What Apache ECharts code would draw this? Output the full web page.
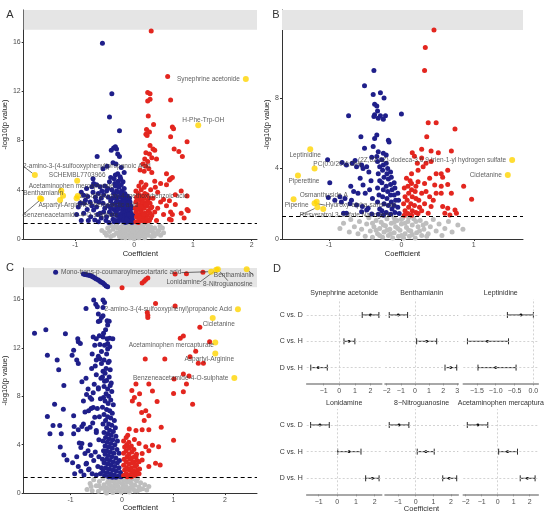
<!DOCTYPE html>
<html lang="en">
<head>
<meta charset="UTF-8">
<title>Volcano plots</title>
<script src="https://cdn.jsdelivr.net/npm/echarts@6/dist/echarts.min.js"></script>
<style>
  html, body { margin: 0; padding: 0; background: #fff; }
  #main { width: 550px; height: 513px; }
</style>
</head>
<body>
<div id="main"></div>
<script>
// ---------- panel A (coefficient, -log10 p) ----------
const aBlue = [[-0.54,15.9],[-0.38,11.8],[-0.42,9.9],[-0.25,8.8],[-0.35,7.4],[-0.32,7.5],[-0.3,7.3],[-0.39,7.2],[-0.28,6.9],[-0.25,6.7],[-0.63,6.7],
  [-0.36,6.2],[-0.31,6.1],[-0.46,5.9],[-0.22,5.8],[-0.53,5.7],[-0.17,5.4],[-0.28,5.3],[-0.32,5.2],[-0.24,5.05],[-0.4,5.0],
  [-0.69,4.5],[-0.64,4.4],[-0.72,4.25],[-0.81,4.1],[-0.58,4.25],[-0.42,4.65],[-0.33,4.5],[-0.19,4.65],[-0.5,4.3],[-0.45,4.1],
  [-0.86,3.55],[-0.83,3.15],[-0.92,2.9],[-0.79,3.45],[-0.75,3.0],[-0.86,2.1],[-0.95,2.6],[-0.9,3.8],[-0.7,3.8],[-0.66,3.4],
  [-0.61,3.7],[-0.56,3.3],[-0.53,2.9],[-0.64,2.6],[-0.5,2.5],[-0.58,2.1],[-0.56,1.7],[-0.47,1.8],
  [-0.69,2.35],[-0.74,1.8],[-0.67,1.55],[-0.61,1.4],[-0.8,2.4],[-0.72,2.7],[-0.6,3.0],[-0.52,3.6],[-0.47,3.9],[-0.44,3.4],[-0.42,2.2],[-0.48,1.5],
  [-0.38,4.0],[-0.35,3.7],[-0.4,3.1],[-0.37,2.8],[-0.35,2.4],[-0.38,2.0],[-0.36,1.6],[-0.34,1.4],
  [-0.32,4.3],[-0.3,3.9],[-0.31,3.5],[-0.3,3.2],[-0.32,2.9],[-0.3,2.6],[-0.31,2.2],[-0.3,1.9],[-0.31,1.5],
  [-0.27,4.7],[-0.26,4.2],[-0.27,3.8],[-0.25,3.4],[-0.26,3.0],[-0.25,2.7],[-0.27,2.4],[-0.26,2.0],[-0.25,1.7],[-0.27,1.4],
  [-0.22,4.4],[-0.21,3.9],[-0.22,3.6],[-0.2,3.3],[-0.21,3.0],[-0.22,2.7],[-0.2,2.4],[-0.21,2.1],[-0.22,1.8],[-0.2,1.5],
  [-0.17,4.1],[-0.16,3.7],[-0.17,3.4],[-0.15,3.1],[-0.16,2.8],[-0.17,2.5],[-0.15,2.2],[-0.16,1.9],[-0.17,1.6],[-0.15,1.35],
  [-0.12,3.5],[-0.11,3.2],[-0.12,2.9],[-0.1,2.6],[-0.11,2.3],[-0.12,2.0],[-0.1,1.7],[-0.11,1.4],
  [-0.07,3.0],[-0.06,2.7],[-0.07,2.4],[-0.05,2.1],[-0.06,1.8],[-0.07,1.5],[-0.04,1.35],[-0.02,1.9],[-0.03,1.6],
  [-0.98,2.0],[-0.9,1.5],[-0.85,2.9],[-0.78,1.5],[-0.7,4.9],[-0.65,3.1],[-0.62,2.0],[-0.55,3.9],[-0.52,2.2],[-0.45,2.7],[-0.43,1.35],
  [-0.4,2.5],[-0.37,3.3],[-0.34,4.9],[-0.29,4.5],[-0.23,4.9],[-0.18,3.0],[-0.14,2.6],[-0.13,1.6],[-0.09,2.0],[-0.08,3.3],[-0.04,2.5]];
const aRed = [[0.29,16.9],[0.57,13.2],[0.23,11.9],[0.27,11.8],[0.27,11.35],[0.23,11.2],[0.62,11.3],[0.24,10.0],[0.65,9.1],[0.67,8.95],[0.33,9.3],
  [0.21,8.9],[0.26,8.7],[0.2,8.5],[0.22,8.4],[0.9,7.9],[0.62,8.3],[0.27,7.6],[0.32,7.3],[0.35,7.2],[0.2,7.0],[0.26,6.9],[0.68,7.3],[0.76,7.1],
  [0.82,6.7],[0.3,6.6],[0.18,6.5],[0.23,6.3],[0.38,6.5],[0.15,6.1],[0.2,5.9],[0.25,5.7],[0.1,5.6],[0.17,5.5],[0.3,5.4],[0.55,5.3],[0.65,5.0],
  [0.62,4.9],[0.6,4.8],[0.35,4.7],[0.12,4.6],[0.2,4.4],[0.45,4.5],[0.55,4.4],[0.8,3.9],[0.9,3.5],[0.7,3.6],[0.4,3.8],[0.5,3.2],[0.6,3.1],
  [0.45,3.0],[0.55,2.7],[0.7,2.8],[0.9,2.4],[0.92,2.3],[0.62,2.2],[0.65,2.0],[0.8,2.1],[0.5,2.0],[0.6,1.6],[0.63,1.55],[0.85,1.7],[0.4,2.5],
  [0.35,2.2],[0.3,1.9],[0.38,1.5],[0.32,3.3],[0.28,4.0],[0.36,4.2],
  [0.03,3.9],[0.04,3.4],[0.03,3.0],[0.05,2.6],[0.03,2.2],[0.04,1.8],[0.03,1.4],[0.08,4.3],[0.07,3.7],[0.09,3.2],[0.08,2.8],[0.07,2.4],[0.09,2.0],
  [0.08,1.6],[0.07,1.35],[0.12,4.0],[0.13,3.5],[0.12,3.1],[0.14,2.7],[0.12,2.3],[0.13,1.9],[0.12,1.5],[0.17,4.2],[0.18,3.7],[0.17,3.3],[0.19,2.9],
  [0.17,2.5],[0.18,2.1],[0.17,1.7],[0.19,1.4],[0.22,3.6],[0.23,3.1],[0.22,2.7],[0.24,2.3],[0.22,1.9],[0.23,1.5],[0.27,2.9],[0.28,2.5],[0.27,2.1],[0.28,1.7],
  [0.02,2.5],[0.06,2.0],[0.1,1.7],[0.11,2.6],[0.15,3.0],[0.16,2.0],[0.2,2.8],[0.21,1.6],[0.25,3.3],[0.26,1.5],[0.3,2.6],[0.15,1.5],[0.05,3.2],[0.1,3.5]];
const aGrey = [[-0.45,0.9],[-0.4,1.1],[-0.42,0.6],[-0.35,0.3],[-0.36,0.8],[-0.3,1.2],[-0.3,0.5],[-0.28,0.9],[-0.25,0.2],[-0.24,0.6],[-0.22,1.0],
  [-0.2,0.35],[-0.19,0.75],[-0.18,1.2],[-0.15,0.1],[-0.15,0.5],[-0.14,0.9],[-0.12,1.25],[-0.1,0.3],[-0.1,0.7],[-0.08,1.05],[-0.06,0.15],[-0.05,0.5],
  [-0.04,0.85],[-0.03,1.2],[0.0,0.05],[0.0,0.35],[0.01,0.7],[0.0,1.0],[0.03,0.2],[0.04,0.55],[0.05,0.9],[0.06,1.2],[0.08,0.1],[0.09,0.4],[0.1,0.75],
  [0.11,1.1],[0.13,0.25],[0.14,0.6],[0.15,0.95],[0.17,1.25],[0.18,0.1],[0.19,0.45],[0.2,0.8],[0.23,1.1],[0.24,0.3],[0.26,0.65],[0.28,1.0],[0.3,0.2],
  [0.32,0.55],[0.35,0.9],[0.38,0.4],[0.42,0.7],[0.45,0.3],[0.48,0.9],[-0.5,0.5],
  [-0.4,0.2],[-0.33,1.0],[-0.27,0.4],[-0.21,0.15],[-0.17,0.65],[-0.13,0.35],[-0.09,0.95],[-0.07,0.1],[-0.02,0.65],[0.02,0.95],[0.07,0.3],
  [0.12,0.55],[0.16,0.3],[0.21,0.6],[0.25,0.95],[0.3,0.75],[0.34,0.25],[0.4,0.6],[0.44,1.05],[-0.47,0.3],[0.5,0.5],[-0.55,0.7]];
const aLabNames = ['Synephrine acetonide','H-Phe-Trp-OH','2-amino-3-(4-sulfooxyphenyl)propanoic Acid','SCHEMBL7703966',
  'Acetaminophen mercapturate','Benthamianin','2,6-dihydroxy-4-methoxybenzoic acid','Aspartyl-Arginine','Phenyllactic acid',
  'Benzeneacetamide-4-O-sulphate',''];
const aLabX = [1.9,1.09,-1.69,-0.97,-1.24,-1.6,-0.96,-1.26,-0.98,-1.58,-1.21];
const aLabY = [13.0,9.24,5.19,4.73,3.92,3.3,3.49,3.16,3.3,3.25,3.51];

// ---------- panel B ----------
const bBlue = [[-0.38,9.56],[-0.51,8.7],[-0.29,8.3],[-0.39,8.2],[-0.24,8.0],[-0.37,7.65],[-0.34,7.55],[-0.33,7.27],[-0.37,7.05],[-0.29,7.0],
  [-0.22,7.0],[-0.25,6.8],[-0.32,6.85],[-0.38,6.95],[-0.73,7.0],[0.0,7.1],[-0.56,5.8],[-0.34,5.9],[-0.37,5.7],[-0.18,5.6],[-0.17,5.5],[-0.51,5.15],
  [-0.39,5.25],[-0.32,4.96],[-0.25,4.87],[-0.21,4.77],[-0.34,4.68],[-0.41,4.64],[-1.02,4.5],[-0.82,4.34],[-0.68,4.3],[-0.64,4.45],[-0.76,4.2],
  [-0.62,4.1],[-0.55,4.2],[-0.53,4.0],[-0.48,4.1],[-0.99,3.2],[-0.57,3.45],[-0.53,3.07],[-0.6,2.6],[-0.5,2.6],[-1.01,2.35],[-0.92,2.2],[-0.85,2.4],
  [-0.78,2.3],[-0.83,2.1],[-0.69,2.2],[-0.71,2.0],[-0.62,1.93],[-0.54,1.84],[-0.46,1.74],[-0.8,1.46],[-0.76,1.46],[-0.55,1.55],[-0.48,1.65],
  [-0.41,1.42],[-0.45,3.8],[-0.42,3.3],[-0.44,2.8],[-0.4,2.3],[-0.66,2.7],[-0.7,3.0],
  [-0.33,4.4],[-0.3,4.1],[-0.32,3.7],[-0.3,3.3],[-0.33,2.9],[-0.31,2.5],[-0.33,2.1],[-0.3,1.7],[-0.32,1.4],
  [-0.27,4.5],[-0.25,4.2],[-0.26,3.9],[-0.24,3.5],[-0.27,3.2],[-0.25,2.8],[-0.26,2.4],[-0.24,2.0],[-0.27,1.6],[-0.25,1.35],
  [-0.21,4.3],[-0.19,4.0],[-0.2,3.7],[-0.18,3.4],[-0.21,3.0],[-0.19,2.7],[-0.2,2.3],[-0.18,1.9],[-0.21,1.5],
  [-0.15,3.8],[-0.14,3.5],[-0.15,3.1],[-0.13,2.8],[-0.15,2.5],[-0.14,2.1],[-0.13,1.7],[-0.15,1.4],
  [-0.1,3.2],[-0.09,2.9],[-0.1,2.5],[-0.08,2.2],[-0.1,1.9],[-0.09,1.5],[-0.05,2.6],[-0.04,2.2],[-0.05,1.8],[-0.03,1.45]];
const bRed = [[0.45,11.87],[0.33,10.87],[0.32,9.56],[0.37,6.6],[0.48,6.6],[0.74,6.25],[0.35,5.8],[0.28,5.1],[0.41,5.0],[0.51,4.9],[0.69,5.0],
  [0.15,4.9],[0.18,4.7],[0.28,4.6],[0.34,4.3],[0.41,4.4],[0.22,4.3],[0.3,4.1],[0.23,3.9],[0.14,3.7],[0.48,3.7],[0.55,3.7],[0.64,3.9],[0.57,3.5],
  [0.64,3.1],[0.55,3.0],[0.39,3.45],[0.32,3.15],[0.23,3.25],[0.07,3.45],[0.14,3.15],[0.86,3.0],[0.97,2.25],[0.46,3.07],[0.48,2.6],[0.39,2.4],
  [0.28,2.6],[0.34,2.7],[0.69,2.6],[0.55,2.6],[0.57,1.84],[0.64,1.74],[0.74,1.65],[0.76,1.46],[0.6,1.46],[0.67,1.36],[0.37,1.46],[0.41,1.84],
  [0.32,2.0],[0.44,2.2],[0.04,2.9],[0.05,2.4],[0.03,2.0],[0.05,1.6],[0.04,1.35],[0.09,3.0],[0.1,2.6],[0.08,2.2],[0.1,1.8],[0.09,1.45],[0.14,2.8],
  [0.15,2.4],[0.13,2.0],[0.15,1.6],[0.14,1.35],[0.19,2.7],[0.2,2.3],[0.18,1.9],[0.2,1.5],[0.24,2.2],[0.25,1.8],[0.23,1.45],[0.28,1.6],[0.12,3.3],[0.2,3.0]];
const bGrey = [[-0.85,0.6],[-0.8,0.9],[-0.72,0.4],[-0.7,1.1],[-0.65,0.7],[-0.6,0.3],[-0.58,1.0],[-0.55,0.55],[-0.5,0.15],[-0.48,0.85],[-0.45,1.2],
  [-0.43,0.45],[-0.4,0.1],[-0.38,0.7],[-0.35,1.05],[-0.33,0.3],[-0.3,0.6],[-0.28,0.95],[-0.26,0.1],[-0.24,0.4],[-0.22,0.75],[-0.2,1.15],[-0.18,0.2],
  [-0.16,0.55],[-0.14,0.9],[-0.12,0.05],[-0.1,0.35],[-0.08,0.7],[-0.06,1.05],[-0.04,0.15],[-0.02,0.5],[0.0,0.85],[0.02,1.2],[0.03,0.05],[0.05,0.3],
  [0.07,0.65],[0.09,1.0],[0.11,0.15],[0.13,0.45],[0.15,0.8],[0.17,1.15],[0.19,0.05],[0.21,0.35],[0.23,0.7],[0.26,1.05],[0.28,0.2],[0.31,0.55],
  [0.34,0.9],[0.37,0.3],[0.4,0.7],[0.44,1.1],[0.48,0.45],[0.52,0.85],[0.56,0.2],[0.6,0.6],[0.65,1.0],[0.7,0.4],[0.78,0.8],[0.85,0.55],
  [-0.3,0.2],[-0.25,0.8],[-0.2,0.5],[-0.15,0.3],[-0.1,0.95],[-0.05,0.6],[0.0,0.2],[0.05,0.9],[0.1,0.5],[0.15,0.25],[0.2,1.0],[0.25,0.45],
  [0.3,0.8],[0.35,0.15],[-0.35,0.5],[-0.4,0.9],[0.0,1.1],[0.1,1.2],[-0.1,1.2]];
const bLabNames = ['Leptinidine','PC(0:0/20:4;OH)','Piperettine','Piperine','Osmanthuside A','Hydroxy-alpha-sanshool',
  'Resveratrol 3-sulfate Naringenin','(2Z,6Z,9Z)-dodeca-3,6,9-trien-1-yl hydrogen sulfate','Cicletanine',''];
const bLabX = [-1.26,-1.2,-1.43,-1.49,-1.17,-1.2,-1.16,1.53,1.47,-1.08];
const bLabY = [5.1,4.0,3.6,2.25,2.12,2.03,1.8,4.49,3.64,1.7];

// ---------- panel C ----------
const cBlue = [[-1.29,18.24],[-0.75,18.1],[-0.72,18.07],[-0.69,18.05],[-0.65,18.0],[-0.62,17.97],[-0.59,17.92],[-0.56,17.86],[-0.53,17.78],
  [-0.5,17.7],[-0.46,17.6],[-0.43,17.5],[-0.4,17.42],[-0.37,17.37],[-0.34,17.24],[-0.31,17.12],[-0.28,17.06],
  [-0.55,15.96],[-0.37,15.96],[-0.51,15.6],[-0.34,15.75],[-0.48,15.4],[-0.37,15.34],[-0.7,15.26],[-0.46,14.8],[-0.43,14.25],[-0.46,14.17],
  [-0.4,14.5],[-0.37,14.66],[-0.29,14.25],[-0.25,14.2],[-1.7,13.2],[-1.48,13.5],[-1.1,13.17],[-0.56,12.9],[-0.5,12.76],[-0.37,12.9],[-0.29,12.76],
  [-0.24,12.8],[-0.18,12.76],[-0.28,12.36],[-0.43,12.28],[-0.53,12.22],[-0.34,12.22],[-0.24,12.09],[-0.86,12.76],[-0.85,12.5],[-0.81,12.36],
  [-1.45,11.4],[-1.26,11.0],[-1.23,10.2],[-1.13,8.9],[-0.94,11.8],[-0.97,11.4],[-0.88,11.0],[-0.85,10.7],
  [-1.31,7.34],[-1.14,6.93],[-1.45,6.32],[-1.34,5.59],[-1.21,5.59],[-1.4,4.9],[-1.18,4.9],[-0.94,6.4],[-0.93,5.5],[-0.85,5.23],[-0.83,4.15],
  [-0.8,3.77],[-1.13,3.15],[-1.07,2.74],[-0.94,4.9],[-0.78,4.09],[-0.72,3.28],[-0.69,2.46],[-0.65,1.93],
  [-0.62,7.89],[-0.59,7.75],[-0.75,7.62],[-0.69,8.15],[-0.56,7.07],[-0.65,6.8],[-0.53,6.26],[-0.75,5.72],[-0.62,5.45],[-0.5,5.18],
  [-0.59,10.3],[-0.5,9.78],[-0.43,11.1],[-0.4,10.7],[-0.37,10.06],[-0.34,9.24],[-0.46,8.7],[-0.56,8.29],
  [-0.62,4.0],[-0.66,3.5],[-0.6,3.1],[-0.55,2.7],[-0.7,2.4],[-0.64,2.0],[-0.58,1.6],[-0.74,1.5],[-0.8,1.8],[-0.85,2.2],[-0.5,1.5],[-0.47,2.2],
  [-0.52,3.4],[-0.45,4.4],[-0.5,5.0],[-0.57,5.8],[-0.44,6.3],[-0.48,7.0],[-0.42,7.8],[-0.46,8.6],[-0.54,9.0],[-0.41,9.5],[-0.45,3.0],[-0.42,1.6],
  [-0.88,3.0],[-0.96,2.5],[-1.2,3.8],[-0.92,1.6],[-0.68,5.3],[-0.72,6.7],[-0.78,5.5],[-0.6,7.0],[-0.66,8.6],[-0.7,9.5],[-0.78,9.2],[-0.52,10.5],
  [-0.46,11.3],[-0.4,11.7],[-0.5,11.0],[-0.58,11.5],[-0.35,11.0],[-0.3,11.5],[-0.28,11.9],[-0.25,10.9],[-0.36,13.2],[-0.32,13.5],[-0.44,13.0],[-0.28,13.9],
  [-0.38,9.6],[-0.33,9.9],[-0.3,9.3],[-0.25,9.6],[-0.21,9.1],[-0.35,8.8],[-0.28,8.6],[-0.23,8.9],[-0.31,8.2],[-0.26,8.0],[-0.2,8.4],[-0.36,7.9],
  [-0.33,7.6],[-0.27,7.4],[-0.22,7.7],[-0.17,7.3],[-0.38,7.1],[-0.3,6.9],[-0.24,6.8],[-0.19,6.6],[-0.35,6.5],[-0.28,6.3],[-0.22,6.2],[-0.15,6.0],
  [-0.32,6.0],[-0.37,5.7],[-0.26,5.7],[-0.2,5.6],[-0.13,5.4],[-0.3,5.4],[-0.24,5.2],[-0.17,5.1],[-0.35,5.0],[-0.28,4.9],[-0.21,4.8],[-0.12,4.7],
  [-0.32,4.6],[-0.25,4.5],[-0.18,4.4],[-0.09,4.3],[-0.37,4.3],[-0.29,4.2],[-0.22,4.1],[-0.14,4.0],[-0.33,3.9],[-0.26,3.8],[-0.19,3.7],[-0.1,3.6],
  [-0.06,3.3],[-0.36,3.5],[-0.3,3.5],[-0.23,3.4],[-0.16,3.3],[-0.33,3.2],[-0.27,3.1],[-0.2,3.0],[-0.12,2.9],[-0.05,2.7],[-0.38,2.8],[-0.3,2.8],
  [-0.24,2.7],[-0.17,2.6],[-0.09,2.5],[-0.35,2.5],[-0.28,2.4],[-0.21,2.3],[-0.14,2.2],[-0.06,2.1],[-0.4,2.1],[-0.32,2.1],[-0.25,2.0],[-0.18,1.9],
  [-0.11,1.8],[-0.03,1.7],[-0.37,1.8],[-0.29,1.7],[-0.22,1.6],[-0.15,1.5],[-0.08,1.4],[-0.02,1.35],[-0.34,1.45],[-0.26,1.35],[-0.19,1.3],[-0.12,1.3],
  [-0.31,10.3],[-0.27,10.8],[-0.23,10.2]];
const cRed = [[1.03,18.1],[1.25,18.13],[1.57,18.24],[0.0,16.97],[0.39,17.37],[0.43,17.5],[0.46,17.64],[0.5,17.77],
  [0.65,15.66],[1.03,15.47],[0.49,14.93],[0.5,14.7],[0.5,14.5],[1.51,13.7],[1.13,12.8],[1.19,12.98],[1.7,12.5],[1.43,11.73],[1.32,11.27],
  [1.48,10.73],[1.58,10.73],[0.45,11.08],[0.83,11.08],[1.19,9.84],[1.3,9.68],[1.01,9.43],[1.25,9.02],[1.0,8.24],[1.19,8.37],[1.37,7.34],
  [0.27,9.02],[0.52,9.02],[0.19,8.48],[0.34,8.2],[0.24,7.89],[0.59,8.43],[0.2,7.6],[0.68,7.56],[0.33,7.34],[0.46,6.8],[0.38,6.67],[0.52,6.4],
  [0.43,6.0],[0.76,5.45],[0.52,5.23],[0.39,5.23],[0.27,5.18],[0.14,5.3],[1.0,4.36],[0.11,4.77],[0.24,4.42],[0.33,4.09],[0.46,3.82],[0.59,3.96],
  [0.71,3.82],[0.52,3.5],[0.39,3.28],[0.65,2.47],[0.74,2.33],[0.52,2.2],[0.39,2.74],[0.27,3.0],
  [0.03,4.3],[0.05,3.8],[0.03,3.3],[0.04,2.8],[0.03,2.3],[0.05,1.9],[0.03,1.45],[0.08,4.6],[0.09,4.0],[0.08,3.5],[0.1,3.0],[0.08,2.6],[0.09,2.1],
  [0.08,1.6],[0.1,1.35],[0.13,4.2],[0.14,3.7],[0.13,3.2],[0.15,2.8],[0.13,2.4],[0.14,1.9],[0.13,1.5],[0.18,3.9],[0.19,3.4],[0.18,2.9],[0.2,2.5],
  [0.18,2.1],[0.19,1.7],[0.18,1.35],[0.23,3.6],[0.24,3.0],[0.23,2.6],[0.25,2.2],[0.23,1.8],[0.24,1.45],[0.28,3.2],[0.29,2.7],[0.28,2.3],[0.3,1.9],
  [0.28,1.55],[0.33,2.6],[0.34,2.0],[0.33,1.6]];
const cGrey = [[-0.68,0.3],[-0.62,0.8],[-0.58,0.2],[-0.55,1.1],[-0.5,0.6],[-0.46,0.15],[-0.44,0.95],[-0.4,0.4],[-0.37,1.2],[-0.35,0.7],[-0.32,0.1],
  [-0.3,0.45],[-0.28,0.9],[-0.26,1.2],[-0.24,0.25],[-0.22,0.6],[-0.2,1.0],[-0.18,0.05],[-0.16,0.4],[-0.14,0.75],[-0.12,1.15],[-0.1,0.2],[-0.08,0.55],
  [-0.06,0.9],[-0.04,1.25],[-0.02,0.1],[0.0,0.4],[0.02,0.75],[0.04,1.1],[0.06,0.2],[0.08,0.55],[0.1,0.9],[0.12,1.2],[0.14,0.1],[0.16,0.45],[0.18,0.8],
  [0.2,1.15],[0.22,0.3],[0.25,0.65],[0.28,1.0],[0.3,0.2],[0.33,0.5],[0.36,0.85],[0.4,0.35],[0.44,0.7],[0.48,0.25],[0.52,0.55],[-0.15,1.25],[0.0,1.2],[-0.3,0.0],
  [-0.25,0.75],[-0.2,0.35],[-0.15,0.95],[-0.1,0.6],[-0.05,0.3],[0.0,0.8],[0.05,0.5],[0.1,0.25],[0.15,1.05],[0.2,0.6],[0.25,0.2],[-0.35,0.4],
  [0.35,0.3],[-0.45,0.6],[0.3,1.2],[-0.6,0.55]];
const cLabNames = ['Mono-trans-p-coumaroylmesotartaric acid','Lonidamine','8-Nitroguanosine','Benthamianin',
  '2-amino-3-(4-sulfooxyphenyl)propanoic Acid','Cicletanine','Acetaminophen mercapturate','Aspartyl-Arginine','Benzeneacetamide-4-O-sulphate'];
const cLabX = [1.73,1.83,1.86,2.42,2.25,1.76,1.81,1.81,2.18];
const cLabY = [18.3,18.45,18.5,18.5,15.2,14.47,12.44,11.54,9.51];

const pThreshold = 1.3;
const volcanoXTicks = [[-1,0,1,2],[-1,0,1],[-1,0,1,2]];
const volcanoYTicks = [[0,4,8,12,16],[0,4,8],[0,4,8,12,16]];
const bandLow = [17, 11.86, 17];

// ---------- panel D (coefficient with CI) ----------
const dNames = ['Synephrine acetonide','Benthamianin','Leptinidine','Lonidamine','8\u2212Nitroguanosine','Acetaminophen mercaptura'];
const dRows = ['D vs. H','C vs. H','C vs. D'];
// order of values: C vs. D, C vs. H, D vs. H
const dEst = [[2.0,0.62,-1.35],[-1.18,0.83,2.53],[-0.33,-1.22,-1.0],[-0.93,0.63,1.88],[-0.94,0.58,1.9],[-1.24,0.62,1.86]];
const dLow = [[1.47,0.3,-1.83],[-1.82,0.12,2.13],[-0.69,-1.75,-1.47],[-1.43,0.02,1.52],[-1.49,0.09,1.53],[-1.9,0.06,1.41]];
const dHigh = [[2.54,1.0,-0.77],[-0.52,1.54,2.96],[0.0,-0.66,-0.46],[-0.43,1.27,2.24],[-0.38,1.05,2.32],[-0.62,1.24,2.34]];
const dTicks = [[-1,0,1,2],[-2,-1,0,1,2,3],[-1.5,-1,-0.5,0],[-1,0,1,2],[-1,0,1,2],[-2,-1,0,1,2]];

// ---------- layout ----------
const FONT = '"Liberation Sans", Arial, sans-serif';
const BLUE = '#1f1f8a', RED = '#e3261f', GREY = '#bebebe', GOLD = '#ffd400';
const volcanoGrids = [
  { left: 19, top: 10, width: 238, height: 229 },
  { left: 282, top: 10, width: 241, height: 229 },
  { left: 19, top: 268, width: 238, height: 229 }
];
const volcanoX = [[-1.88, 2.09], [-1.65, 1.68], [-1.91, 2.62]];
const volcanoY = [18.6, 13.0, 18.6];
const yNameGap = [10, 7, 10];
const xNameGap = [8, 8, 7];
// label offsets in px: null = put label left of the point
const aLabOff = [null,[5,-5],[52,-9],[0,-6],[10,-5],[3,-5],[56,0],[3,5],[37,7],[29,16],[0,0]];
const aLabLine = [0,0,1,0,0,0,1,0,1,1,0];
const bLabOff = [[-5,6],[23,-4],[6,6],[3,6],[7,-6],[46,2],[29,8],null,null,[0,0]];
const bLabLine = [0,0,0,0,0,1,1,0,0,0];
const cLabOff = [[-90,1],[-33,12],[10,15],[-13,6],null,[6,6],[-44,3],[-6,6],null];
const cLabLine = [1,1,1,1,0,0,0,0,0];

const dGrids = [
  { left: 306.7, top: 299.2, width: 75, height: 84.2 },
  { left: 385, top: 299.2, width: 73.3, height: 84.2 },
  { left: 463.3, top: 299.2, width: 75, height: 84.2 },
  { left: 306.7, top: 409, width: 75, height: 85.3 },
  { left: 385, top: 409, width: 73.3, height: 85.3 },
  { left: 463.3, top: 409, width: 75, height: 85.3 }
];
const dRange = [[-2.09,2.72],[-2.12,3.07],[-1.86,0.13],[-1.64,2.38],[-1.73,2.41],[-2.15,2.54]];

const chart = echarts.init(document.getElementById('main'));

const grid = [], xAxis = [], yAxis = [], series = [];

function labelledData(names, xs, ys, offs, lines) {
  return names.map(function (n, i) {
    return {
      value: [xs[i], ys[i]],
      label: { show: n !== '', formatter: n, position: offs[i] === null ? 'left' : 'inside', distance: 3 },
      labelLine: { show: !!lines[i] }
    };
  });
}

const labelSets = [
  [aLabNames, aLabX, aLabY, aLabOff, aLabLine],
  [bLabNames, bLabX, bLabY, bLabOff, bLabLine],
  [cLabNames, cLabX, cLabY, cLabOff, cLabLine]
];
const pointSets = [[aGrey, aBlue, aRed], [bGrey, bBlue, bRed], [cGrey, cBlue, cRed]];

for (let p = 0; p < 3; p++) {
  grid.push(volcanoGrids[p]);
  xAxis.push({
    gridIndex: p, type: 'value', min: volcanoX[p][0], max: volcanoX[p][1],
    axisLine: { show: true, onZero: false, lineStyle: { color: '#333', width: 1 } },
    axisTick: { show: true, length: 2, customValues: volcanoXTicks[p], lineStyle: { color: '#333' } },
    axisLabel: { customValues: volcanoXTicks[p], fontSize: 7, color: '#4d4d4d', margin: 3, fontFamily: FONT },
    splitLine: { show: false },
    name: 'Coefficient', nameLocation: 'middle', nameGap: xNameGap[p],
    nameTextStyle: { fontSize: 7.5, color: '#222', fontFamily: FONT }
  });
  yAxis.push({
    gridIndex: p, type: 'value', min: 0, max: volcanoY[p],
    axisLine: { show: true, onZero: false, lineStyle: { color: '#333', width: 1 } },
    axisTick: { show: true, length: 2, customValues: volcanoYTicks[p], lineStyle: { color: '#333' } },
    axisLabel: { customValues: volcanoYTicks[p], fontSize: 7, color: '#4d4d4d', margin: 3, fontFamily: FONT },
    splitLine: { show: false },
    name: '-log10(p value)', nameLocation: 'middle', nameGap: yNameGap[p],
    nameTextStyle: { fontSize: 7.5, color: '#222', fontFamily: FONT }
  });
  // grey band for values at the top of the scale
  series.push({
    type: 'scatter', xAxisIndex: p, yAxisIndex: p, data: [], z: 0, silent: true,
    markArea: { silent: true, itemStyle: { color: '#e5e5e5' }, data: [[{ yAxis: bandLow[p] }, { yAxis: volcanoY[p] }]] }
  });
  const cols = [GREY, BLUE, RED];
  pointSets[p].forEach(function (pts, k) {
    series.push({
      type: 'scatter', xAxisIndex: p, yAxisIndex: p, data: pts, symbolSize: 5, z: 2 + k,
      itemStyle: { color: cols[k], opacity: 1 }, silent: true
    });
  });
  const ls = labelSets[p];
  const offs = ls[3];
  series.push({
    type: 'scatter', xAxisIndex: p, yAxisIndex: p, symbolSize: 6, z: 6, silent: true,
    itemStyle: { color: GOLD },
    data: labelledData(ls[0], ls[1], ls[2], ls[3], ls[4]),
    label: { fontSize: 6.5, color: '#333', fontFamily: FONT },
    labelLine: { show: false, lineStyle: { color: '#333', width: 0.7 } },
    labelLayout: function (params) {
      const o = offs[params.dataIndex];
      if (!o) return {};
      return { dx: o[0], dy: o[1] };
    },
    markLine: {
      silent: true, symbol: 'none', label: { show: false },
      lineStyle: { color: '#000', type: [4, 3], width: 1 },
      data: [{ yAxis: pThreshold }]
    }
  });
}

// panel D facets
for (let f = 0; f < 6; f++) {
  const gi = 3 + f;
  grid.push(dGrids[f]);
  const isLeft = f === 0 || f === 3;
  const dec = f === 2;
  xAxis.push({
    gridIndex: gi, type: 'value', min: dRange[f][0], max: dRange[f][1],
    axisLine: { show: true, onZero: false, lineStyle: { color: '#8c8c8c', width: 1.6 } },
    axisTick: { show: true, length: 2, customValues: dTicks[f], lineStyle: { color: '#8c8c8c' } },
    axisLabel: {
      customValues: dTicks[f], fontSize: 7, color: '#4d4d4d', margin: 4, fontFamily: FONT,
      formatter: function (v) { return (dec ? v.toFixed(1) : String(v)).replace('-', '\u2212'); }
    },
    splitLine: { show: false }
  });
  yAxis.push({
    gridIndex: gi, type: 'value', min: 0.4, max: 3.6,
    axisLine: { show: false }, axisTick: { show: false }, splitLine: { show: false },
    axisLabel: {
      show: isLeft, customValues: [1, 2, 3], fontSize: 7, color: '#333', margin: 4, fontFamily: FONT,
      formatter: function (v) { return dRows[v - 1]; }
    }
  });
  // dashed guide lines
  series.push({
    type: 'scatter', xAxisIndex: gi, yAxisIndex: gi, data: [], z: 1, silent: true,
    markLine: {
      silent: true, symbol: 'none', label: { show: false },
      lineStyle: { color: '#c8c8c8', type: [2, 2], width: 0.8 },
      data: [{ yAxis: 1 }, { yAxis: 2 }, { yAxis: 3 }, { xAxis: 0 }]
    }
  });
  const rows = [3, 2, 1];
  series.push({
    type: 'custom', xAxisIndex: gi, yAxisIndex: gi, z: 3, silent: true,
    data: rows.map(function (r, i) { return [r, dEst[f][i], dLow[f][i], dHigh[f][i]]; }),
    encode: { x: [1, 2, 3], y: 0 },
    renderItem: function (params, api) {
      const row = api.value(0);
      const lo = api.coord([api.value(2), row]);
      const hi = api.coord([api.value(3), row]);
      const mid = api.coord([api.value(1), row]);
      const cap = 3;
      const st = { stroke: '#2b2b2b', lineWidth: 1 };
      return {
        type: 'group', children: [
          { type: 'line', shape: { x1: lo[0], y1: lo[1], x2: hi[0], y2: hi[1] }, style: st },
          { type: 'line', shape: { x1: lo[0], y1: lo[1] - cap, x2: lo[0], y2: lo[1] + cap }, style: st },
          { type: 'line', shape: { x1: hi[0], y1: hi[1] - cap, x2: hi[0], y2: hi[1] + cap }, style: st },
          { type: 'circle', shape: { cx: mid[0], cy: mid[1], r: 1.4 }, style: { fill: '#111' } }
        ]
      };
    }
  });
}

// text: panel letters, facet strips, D axis title
function txt(x, y, s, size, align) {
  return { type: 'text', x: x, y: y, silent: true,
    style: { text: s, fill: '#333', font: size + 'px ' + FONT, align: align || 'center', verticalAlign: 'middle' } };
}
const graphic = [
  txt(10, 15, 'A', 11), txt(276, 15, 'B', 11), txt(10, 268, 'C', 11), txt(277, 269, 'D', 11),
  txt(421.5, 509, 'Coefficient', 7.5)
];
dNames.forEach(function (n, f) {
  const g = dGrids[f];
  graphic.push(txt(g.left + g.width / 2, f < 3 ? 293 : 403, n, 7));
});

chart.setOption({
  backgroundColor: '#fff',
  animation: false,
  textStyle: { fontFamily: FONT },
  grid: grid,
  xAxis: xAxis,
  yAxis: yAxis,
  series: series,
  graphic: graphic
});
</script>
</body>
</html>
